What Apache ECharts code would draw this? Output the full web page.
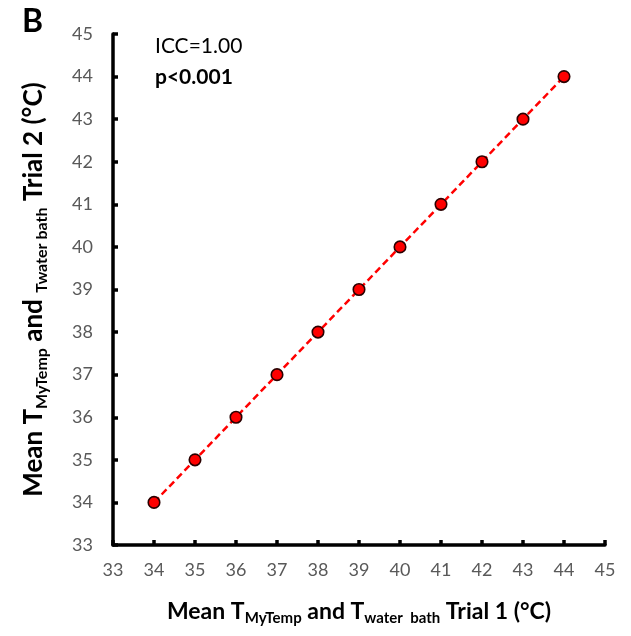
<!DOCTYPE html>
<html>
<head>
<meta charset="utf-8">
<script src="https://cdn.jsdelivr.net/npm/echarts@6/dist/echarts.min.js"></script>
<style>html,body{margin:0;padding:0;background:#fff;}#c{width:631px;height:636px;}</style>
</head>
<body>
<div id="c"></div>
<script>
var trial1 = [34, 35, 36, 37, 38, 39, 40, 41, 42, 43, 44];
var trial2 = [34, 35, 36, 37, 38, 39, 40, 41, 42, 43, 44];
var axisMin = 33, axisMax = 45, axisStep = 1;
var panelLabel = 'B';
var statLines = ['ICC=1.00', 'p<0.001'];

var pts = trial1.map(function (v, i) { return [v, trial2[i]]; });
var FONT = 'Lato';
var chart = echarts.init(document.getElementById('c'), null, {renderer: 'canvas'});
var xRich = {
  m: {fontFamily: FONT, fontWeight: 'bold', fontSize: 23, color: '#000'},
  s: {fontFamily: FONT, fontWeight: 'bold', fontSize: 15, color: '#000', padding: [14, 0, 0, 0]}
};
var yRich = {
  m: {fontFamily: FONT, fontWeight: 'bold', fontSize: 26, color: '#000'},
  s: {fontFamily: FONT, fontWeight: 'bold', fontSize: 16, color: '#000', padding: [16, 0, 0, 0]}
};
chart.setOption({
  animation: false,
  grid: {left: 113, right: 26, top: 34, bottom: 91, containLabel: false},
  xAxis: {
    type: 'value', min: axisMin, max: axisMax, interval: axisStep,
    splitLine: {show: false},
    axisLine: {lineStyle: {color: '#000', width: 3.5}},
    axisTick: {inside: true, length: 5, lineStyle: {color: '#000', width: 3.5}},
    axisLabel: {color: '#595959', fontSize: 18, fontFamily: FONT, margin: 16},
    name: '{m|Mean T}{s|MyTemp}{m| and T}{s|water  bath}{m| Trial 1 (°C)}',
    nameLocation: 'middle', nameGap: 52,
    nameTextStyle: {rich: xRich}
  },
  yAxis: {
    type: 'value', min: axisMin, max: axisMax, interval: axisStep,
    splitLine: {show: false},
    axisLine: {lineStyle: {color: '#000', width: 3.5}},
    axisTick: {inside: true, length: 5, lineStyle: {color: '#000', width: 3.5}},
    axisLabel: {color: '#595959', fontSize: 18, fontFamily: FONT, margin: 20},
    name: '{m|Mean T}{s|MyTemp}{m| and }{s|Twater bath}{m| Trial 2 (°C)}',
    nameLocation: 'middle', nameGap: 63, nameRotate: 90,
    nameTextStyle: {rich: yRich}
  },
  graphic: [
    {type: 'text', left: 22, top: 6, style: {text: panelLabel, font: 'bold 32px ' + FONT, fill: '#000'}},
    {type: 'text', left: 155, top: 36, style: {text: statLines[0], font: '21px ' + FONT, fill: '#000'}},
    {type: 'text', left: 155, top: 67, style: {text: statLines[1], font: 'bold 21px ' + FONT, fill: '#000'}}
  ],
  series: [
    {
      type: 'line', data: [pts[0], pts[pts.length - 1]], showSymbol: false, symbol: 'none',
      lineStyle: {color: '#FF0000', width: 2.5, type: [7, 4]}, z: 2, silent: true
    },
    {
      type: 'scatter', data: pts, symbol: 'circle', symbolSize: 11.5,
      itemStyle: {color: '#FF0000', borderColor: '#2a0000', borderWidth: 1.6, opacity: 1}, z: 3
    }
  ]
});
</script>
</body>
</html>
